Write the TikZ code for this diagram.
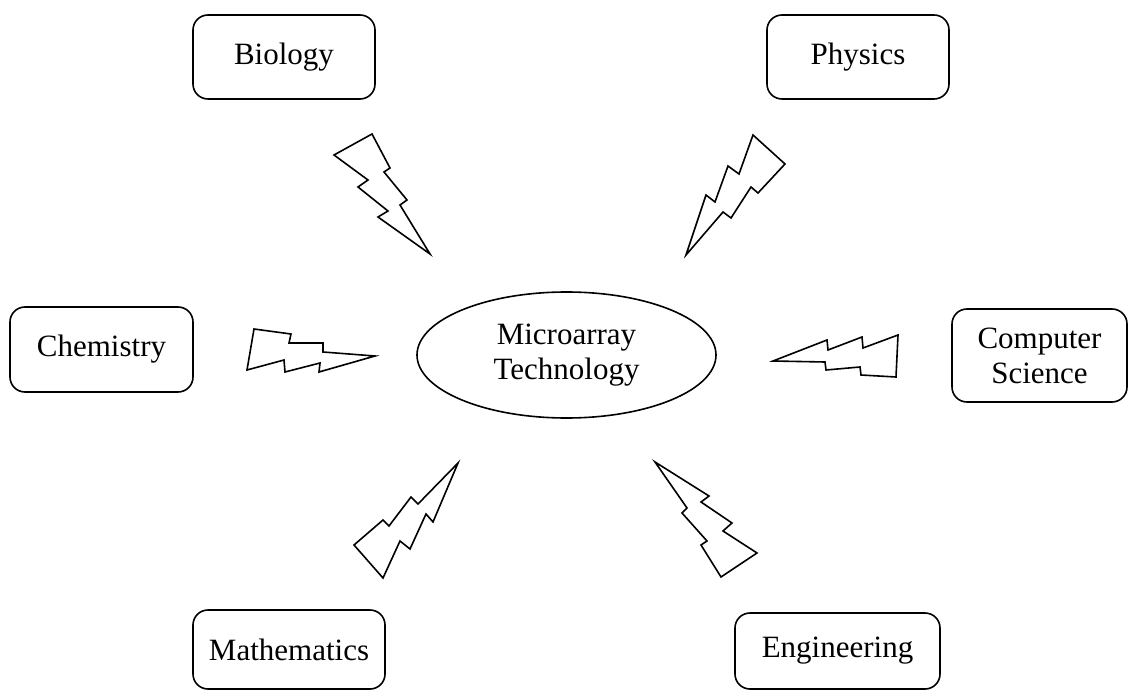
\documentclass[tikz,border=0pt]{standalone}
\usepackage{fontspec}
\setmainfont{Liberation Serif}
\usetikzlibrary{shapes.geometric}
\begin{document}
\begin{tikzpicture}[x=1pt,y=-1pt,
  field/.style={draw,line width=1.6pt,rounded corners=15pt,align=center,
    font=\fontsize{31}{35}\selectfont,inner sep=0pt},
  core/.style={draw,ellipse,line width=1.6pt,align=center,
    font=\fontsize{31}{35}\selectfont,inner sep=0pt},
  bolt/.style={draw,line width=1.6pt,line join=miter}]
\useasboundingbox (0,0) rectangle (1129,692);
\node[field,minimum width=182pt,minimum height=84pt] (bio) at (284,57) {Biology};
\node[field,minimum width=182pt,minimum height=84pt] (phy) at (858,57) {Physics};
\node[field,minimum width=183pt,minimum height=85pt] (che) at (101.5,349.5) {Chemistry};
\node[field,minimum width=175pt,minimum height=93pt] (cs) at (1039.5,355.5) {Computer\\Science};
\node[field,minimum width=192pt,minimum height=79pt] (mat) at (289,649.5) {Mathematics};
\node[field,minimum width=205pt,minimum height=76pt] (eng) at (837.5,651) {Engineering};
\node[core,minimum width=299pt,minimum height=126pt] (mt) at (566.5,355) {Microarray\\Technology};
% lightning bolts
\draw[bolt] (334,155) -- (372,134) -- (390,168) -- (384,172) -- (407,200) -- (400,205) -- (430,254) -- (378,217) -- (388,211) -- (358,187) -- (368,180) -- cycle;
\draw[bolt] (686,255) -- (706,195) -- (715,202) -- (728,166) -- (739,174) -- (753,135) -- (785,164) -- (758,193) -- (751,187) -- (731,218) -- (723,212) -- cycle;
\draw[bolt] (254,329) -- (291,334) -- (289,343) -- (323,343) -- (323,352) -- (375,356) -- (319,372) -- (320,363) -- (285,372) -- (284,360) -- (247,370) -- cycle;
\draw[bolt] (773,361) -- (827,340) -- (828,350) -- (862,337) -- (863,348) -- (898,335) -- (896,377) -- (861,375) -- (860,367) -- (826,370) -- (825,362) -- cycle;
\draw[bolt] (458,463) -- (433,522) -- (426,514) -- (410,549) -- (400,541) -- (383,578) -- (354,545) -- (383,520) -- (389,526) -- (411,497) -- (418,504) -- cycle;
\draw[bolt] (655,462) -- (709,496) -- (701,502) -- (732,523) -- (723,531) -- (757,553) -- (721,577) -- (701,545) -- (707,541) -- (682,513) -- (687,508) -- cycle;
\end{tikzpicture}
\end{document}
